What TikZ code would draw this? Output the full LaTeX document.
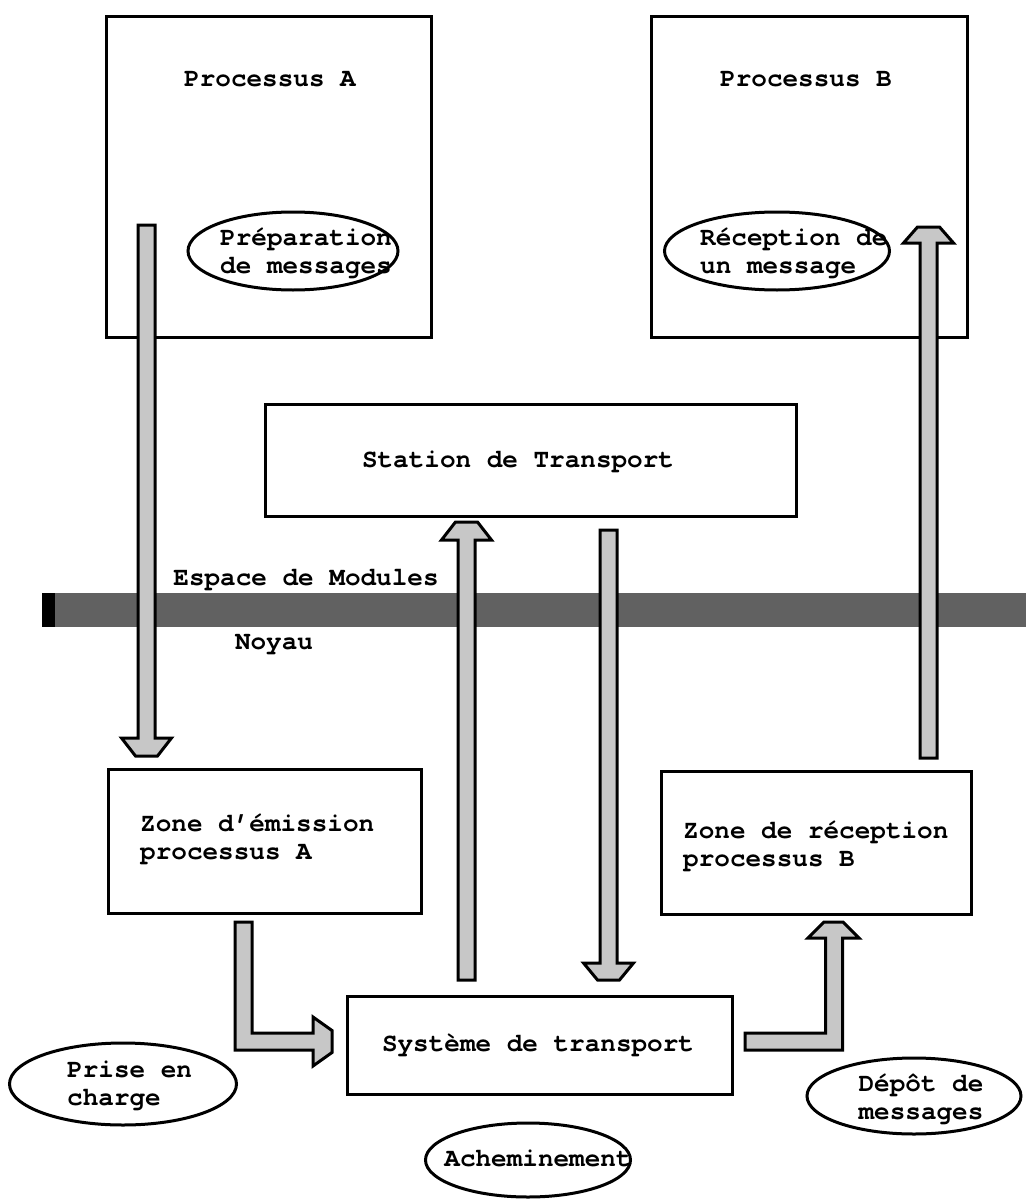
\documentclass[tikz,border=0pt]{standalone}
\usepackage{fontspec}
\newfontfamily\cour{texgyrecursor}[Extension=.otf, UprightFont=*-regular, BoldFont=*-bold]
\usetikzlibrary{shapes.geometric}

% vertical block arrow: centre x, shaft start y, head base y, tip y
\newcommand{\vblock}[4]{%
  \draw[blk] ({#1-8.5},#2) -- ({#1-8.5},#3) -- ({#1-25},#3) -- ({#1-11},#4)
    -- ({#1+11},#4) -- ({#1+25},#3) -- ({#1+8.5},#3) -- ({#1+8.5},#2) -- cycle;}

\tikzset{
  box/.style={draw, line width=3pt, inner sep=0pt, anchor=north west},
  lbl/.style={font=\cour\bfseries\fontsize{26}{28}\selectfont, inner sep=0pt, align=left},
  oval/.style={draw, ellipse, line width=3pt, inner sep=0pt},
  blk/.style={draw, line width=3pt, fill=black!22, line join=miter},
}

\begin{document}
\begin{tikzpicture}[x=1pt, y=-1pt]
  \useasboundingbox (0,0) rectangle (1026,1199);

  % processes in user space
  \node[box, minimum width=325, minimum height=321] (pa) at (105,15) {};
  \node[box, minimum width=316, minimum height=321] (pb) at (650,15) {};
  \node[lbl] (tpa) at (270,79) {Processus A};
  \node[lbl] (tpb) at (806,79) {Processus B};

  \node[oval, minimum width=210, minimum height=78] (prep) at (293,251) {};
  \node[lbl, anchor=west] (tprep) at (220,253) {Préparation\\de messages};
  \node[oval, minimum width=225, minimum height=78] (recep) at (777,251) {};
  \node[lbl, anchor=west] (trecep) at (700,253) {Réception de\\un message};

  % transport station
  \node[box, minimum width=531, minimum height=112] (st) at (264,403) {};
  \node[lbl] (tst) at (518,462) {Station de Transport};

  % user space / kernel boundary
  \fill[black!62] (42,593) rectangle (1026,627);
  \fill[black] (42,593) rectangle (55,627);
  \node[lbl] (esp) at (306,580) {Espace de Modules};
  \node[lbl] (noy) at (274,645) {Noyau};

  % kernel zones
  \node[box, minimum width=313, minimum height=144] (za) at (107,768) {};
  \node[lbl, anchor=west] (tza) at (140,839) {Zone d’émission\\processus A};
  \node[box, minimum width=310, minimum height=143] (zb) at (660,770) {};
  \node[lbl, anchor=west] (tzb) at (683,846) {Zone de réception\\processus B};

  \node[box, minimum width=385, minimum height=98] (sys) at (346,995) {};
  \node[lbl] (tsys) at (538,1045) {Système de transport};

  % block arrows
  \vblock{146.5}{225}{738}{756}
  \vblock{928.5}{758}{243}{227}
  \vblock{466.5}{980}{540}{522}
  \vblock{608.5}{530}{963}{980}

  \draw[blk] (235,922) -- (252,922) -- (252,1033) -- (313,1033) -- (313,1017)
    -- (332,1030.5) -- (332,1052.5) -- (313,1066) -- (313,1050) -- (235,1050) -- cycle;
  \draw[blk] (745,1033) -- (825.5,1033) -- (825.5,938) -- (808,938) -- (824,922)
    -- (843,922) -- (859,938) -- (842.5,938) -- (842.5,1050) -- (745,1050) -- cycle;

  % step labels
  \node[oval, minimum width=227, minimum height=82] (prise) at (123,1084) {};
  \node[lbl, anchor=west] (tprise) at (67,1086) {Prise en\\charge};
  \node[oval, minimum width=214, minimum height=76] (depot) at (914,1096) {};
  \node[lbl, align=center] (tdepot) at (921,1099) {Dépôt de\\messages};
  \node[oval, minimum width=205, minimum height=74] (achem) at (528,1160) {};
  \node[lbl] (tachem) at (538,1158) {Acheminement};
\end{tikzpicture}
\end{document}
